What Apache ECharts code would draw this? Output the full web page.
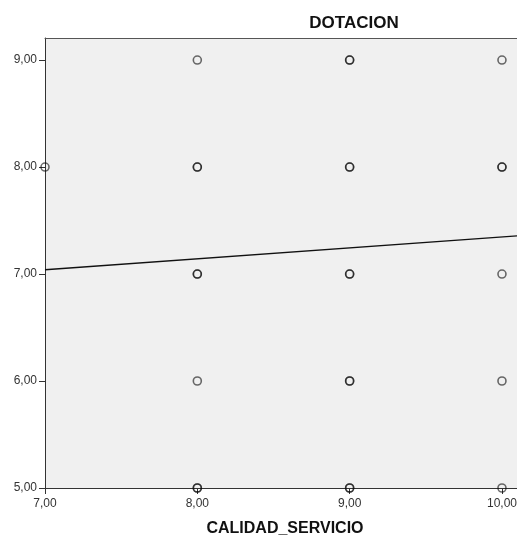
<!DOCTYPE html>
<html>
<head>
<meta charset="utf-8">
<script src="https://cdn.jsdelivr.net/npm/echarts@6/dist/echarts.min.js"></script>
<style>html,body{margin:0;padding:0;background:#fff}#c{width:517px;height:539px}</style>
</head>
<body>
<div id="c"></div>
<script>
// Observations (duplicates mark overlapping cases)
var calidad  = [7, 8, 8,8, 8,8, 8, 8,8, 9,9, 9,9, 9,9, 9,9, 9,9, 10, 10,10, 10, 10, 10];
var dotacion = [8, 9, 8,8, 7,7, 6, 5,5, 9,9, 8,8, 7,7, 6,6, 5,5, 9, 8,8, 7, 6, 5];
// Fit line endpoints
var fitX = [7, 10.23];
var fitY = [7.04, 7.37];
var xTicks = [7, 8, 9, 10];
var yTicks = [5, 6, 7, 8, 9];
var titleText = 'DOTACION';
var xName = 'CALIDAD_SERVICIO';

var pts = calidad.map(function(x, i){ return [x, dotacion[i]]; });
var fit = fitX.map(function(x, i){ return [x, fitY[i]]; });
var fmt = function(v){ return v.toFixed(2).replace('.', ','); };
var FONT = '"Liberation Sans", Arial, sans-serif';

var chart = echarts.init(document.getElementById('c'), null, {renderer: 'canvas'});
chart.setOption({
  animation: false,
  backgroundColor: '#ffffff',
  title: [
    {text: titleText, left: 354, top: 15, textAlign: 'center', padding: 0,
     textStyle: {fontFamily: FONT, fontSize: 17, fontWeight: 'bold', color: '#111'}},
    {text: xName, left: 285, top: 521, textAlign: 'center', padding: 0,
     textStyle: {fontFamily: FONT, fontSize: 16, fontWeight: 'bold', color: '#111'}}
  ],
  grid: {left: 45, top: 38, right: -20, bottom: 51, show: true, containLabel: false,
         outerBoundsMode: 'none',
         backgroundColor: '#f0f0f0', borderWidth: 0},
  xAxis: [{
    type: 'value', min: 7, max: 10.23, interval: 1,
    splitLine: {show: false},
    axisLine: {show: true, lineStyle: {color: '#333', width: 1}},
    axisTick: {show: true, length: 6, inside: false, customValues: xTicks, lineStyle: {color: '#333'}},
    axisLabel: {customValues: xTicks, margin: 10, formatter: fmt,
                fontFamily: FONT, fontSize: 12, color: '#333'}
  }, {
    type: 'value', position: 'top', min: 7, max: 10.23,
    splitLine: {show: false}, axisTick: {show: false}, axisLabel: {show: false},
    axisLine: {show: true, lineStyle: {color: '#555', width: 1}}
  }],
  yAxis: {
    type: 'value', min: 5, max: 9.206, interval: 1,
    splitLine: {show: false},
    axisLine: {show: true, lineStyle: {color: '#333', width: 1}},
    axisTick: {show: true, length: 6, inside: false, customValues: yTicks, lineStyle: {color: '#333'}},
    axisLabel: {customValues: yTicks, margin: 8, formatter: fmt,
                fontFamily: FONT, fontSize: 12, color: '#333'}
  },
  series: [
    {type: 'scatter', data: pts, symbol: 'circle', symbolSize: 8, clip: true,
     itemStyle: {color: 'rgba(0,0,0,0)', borderColor: 'rgba(10,10,10,0.75)', borderWidth: 1.6},
     emphasis: {disabled: true}, z: 3},
    {type: 'line', data: fit, showSymbol: false, symbol: 'none', clip: true,
     lineStyle: {color: '#111', width: 1.3}, emphasis: {disabled: true}, z: 4}
  ]
});
</script>
</body>
</html>
